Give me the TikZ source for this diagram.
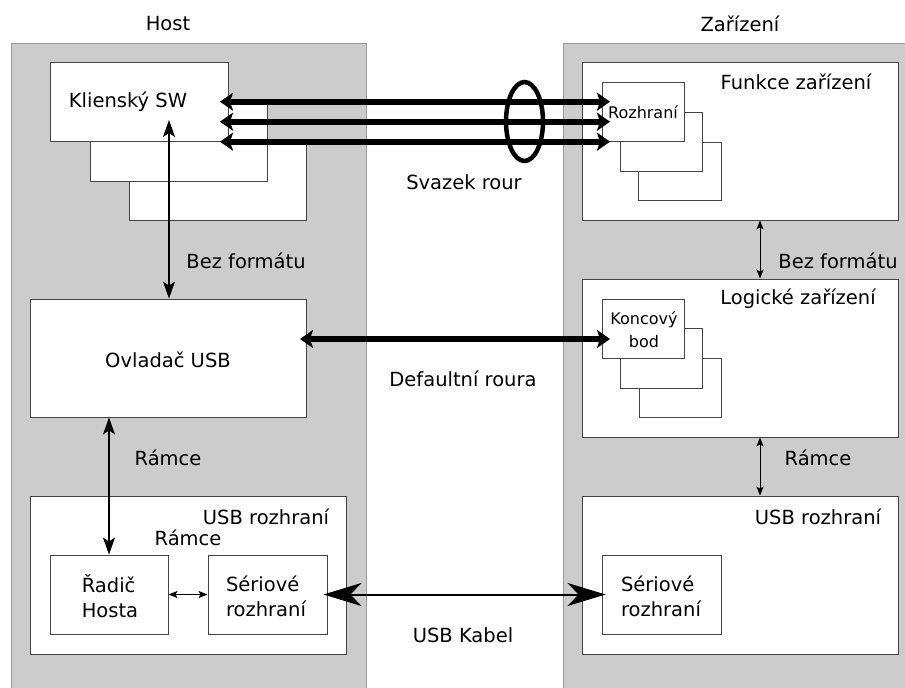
\documentclass[tikz,border=0pt]{standalone}
\usepackage{fontspec}
\setmainfont{DejaVu Sans}
\usetikzlibrary{arrows.meta,shapes.geometric}
\definecolor{panelgray}{HTML}{CCCCCC}
\definecolor{paneledge}{HTML}{9A9A9A}
\definecolor{boxedge}{HTML}{444444}
\begin{document}
\begin{tikzpicture}[x=1pt,y=-1pt,
  panel/.style={fill=panelgray, draw=paneledge, line width=1.2pt, rectangle, inner sep=0pt, anchor=north west},
  box/.style={draw=boxedge, fill=white, line width=0.9pt, rectangle, inner sep=0pt},
  lbl/.style={font=\fontsize{19.5}{25}\selectfont, inner sep=0pt},
  slbl/.style={font=\fontsize{16}{23}\selectfont, inner sep=0pt},
  pipe/.style={line width=6pt, {Stealth[length=13pt,width=18pt,inset=3pt]}-{Stealth[length=13pt,width=18pt,inset=3pt]}},
  midarrow/.style={line width=1.3pt, {Stealth[length=17pt,width=12pt,inset=4pt]}-{Stealth[length=17pt,width=12pt,inset=4pt]}},
  smallarrow/.style={line width=1pt, {Stealth[length=9pt,width=7pt,inset=2pt]}-{Stealth[length=9pt,width=7pt,inset=2pt]}},
  cable/.style={line width=2pt, {Stealth[length=38pt,width=23pt,inset=11pt]}-{Stealth[length=38pt,width=23pt,inset=11pt]}}
]
\useasboundingbox (0,0) rectangle (905,688);
\fill[white] (0,0) rectangle (905,688);

% panels
\node[panel, minimum width=355pt, minimum height=660pt] (hostp) at (11,43) {};
\node[panel, minimum width=345pt, minimum height=660pt] (devp) at (563,43) {};

% host side boxes
\node[box, minimum width=177pt, minimum height=78pt] (ksw3) at (217.5,181) {};
\node[box, minimum width=177pt, minimum height=79pt] (ksw2) at (178.5,141.5) {};
\node[box, minimum width=178pt, minimum height=79pt] (ksw) at (139,101.5) {};
\node[box, minimum width=276pt, minimum height=118pt] (ovl) at (168,358) {};
\node[box, minimum width=316pt, minimum height=158pt] (husb) at (188,575) {};
\node[box, minimum width=118pt, minimum height=79pt] (radic) at (109,594.5) {};
\node[box, minimum width=119pt, minimum height=79pt] (hser) at (267.5,594.5) {};

% device side boxes
\node[box, minimum width=316pt, minimum height=158pt] (funkce) at (740,141) {};
\node[box, minimum width=83pt, minimum height=58pt] (roz3) at (679.5,171) {};
\node[box, minimum width=82pt, minimum height=59pt] (roz2) at (661,141.5) {};
\node[box, minimum width=82pt, minimum height=59pt] (roz) at (643,111.5) {};
\node[box, minimum width=316pt, minimum height=158pt] (logic) at (740,358) {};
\node[box, minimum width=82pt, minimum height=59pt] (kb3) at (680,387.5) {};
\node[box, minimum width=82pt, minimum height=60pt] (kb2) at (661,358) {};
\node[box, minimum width=82pt, minimum height=59pt] (kb) at (643,328.5) {};
\node[box, minimum width=316pt, minimum height=158pt] (dusb) at (740,575) {};
\node[box, minimum width=119pt, minimum height=79pt] (dser) at (661.5,594.5) {};

% text
\node[lbl] (thost) at (168,24) {Host};
\node[lbl] (tdev) at (740,24) {Zařízení};
\node[lbl] (tksw) at (128,102) {Klienský SW};
\node[lbl] (tsvazek) at (464,182) {Svazek rour};
\node[lbl] (tfunkce) at (796,82) {Funkce zařízení};
\node[slbl] (troz) at (643,112) {Rozhraní};
\node[lbl] (tbez1) at (246,261) {Bez formátu};
\node[lbl] (tbez2) at (838,261) {Bez formátu};
\node[lbl] (tlogic) at (798,299) {Logické zařízení};
\node[slbl, align=center] (tkb) at (644,330) {Koncový\\bod};
\node[lbl] (tovl) at (168,360) {Ovladač USB};
\node[lbl] (tdef) at (463,379) {Defaultní roura};
\node[lbl] (tram1) at (168,458) {Rámce};
\node[lbl] (tram2) at (818,458) {Rámce};
\node[lbl] (thusb) at (266,517) {USB rozhraní};
\node[lbl] (tram3) at (188,538) {Rámce};
\node[lbl, align=left] (tradic) at (110,596) {Řadič\\Hosta};
\node[lbl, align=left] (thser) at (266,596) {Sériové\\rozhraní};
\node[lbl, align=left] (tdser) at (661,596) {Sériové\\rozhraní};
\node[lbl] (tdusb) at (818,517) {USB rozhraní};
\node[lbl] (tkabel) at (463,635) {USB Kabel};

% pipe bundle
\coordinate (p1l) at (220,101.7);
\coordinate (p2l) at (220,121.7);
\coordinate (p3l) at (220,141.7);
\coordinate (p1r) at (610,101.7);
\coordinate (p2r) at (610,121.7);
\coordinate (p3r) at (610,141.7);
\draw[pipe] (p1l) -- (p1r);
\draw[pipe] (p2l) -- (p2r);
\draw[pipe] (p3l) -- (p3r);
\node[ellipse, draw, line width=4.5pt, minimum width=37pt, minimum height=79pt, inner sep=0pt] (bundle) at (524.5,121.5) {};

% default pipe
\coordinate (dl) at (300,339);
\coordinate (dr) at (610,339);
\draw[pipe] (dl) -- (dr);

% vertical connectors
\coordinate (kswin) at (169,120);
\draw[midarrow] (kswin) -- (kswin |- ovl.north);
\draw[midarrow] (radic.north |- ovl.south) -- (radic.north);
\draw[smallarrow] ([xshift=20pt]funkce.south) -- ([xshift=20pt]logic.north);
\draw[smallarrow] ([xshift=20pt]logic.south) -- ([xshift=20pt]dusb.north);
\draw[smallarrow] (radic.east) -- (hser.west);

% cable
\draw[cable] ([xshift=-4pt]hser.east) -- ([xshift=4pt]dser.west);
\end{tikzpicture}
\end{document}
